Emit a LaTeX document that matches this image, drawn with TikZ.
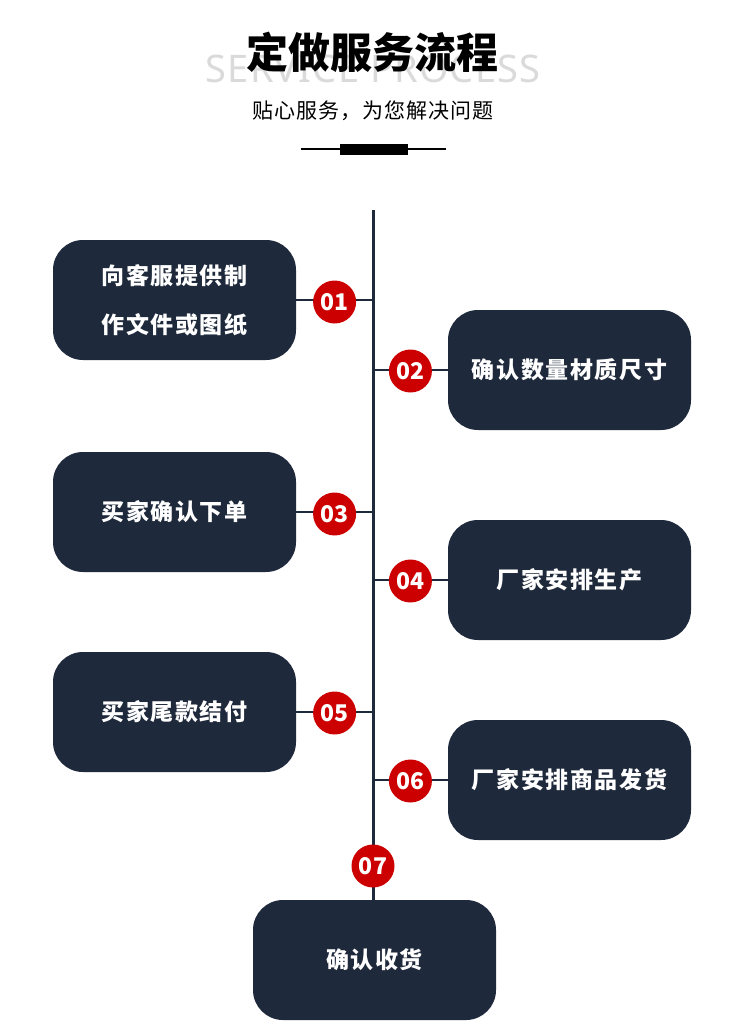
\documentclass[tikz,border=0pt]{standalone}
\usepackage{fontspec}
\setmainfont{Noto Sans CJK SC}
\newfontfamily\boxfont[LetterSpace=7]{Noto Sans CJK SC}
\newfontfamily\subfont[LetterSpace=5]{Noto Sans CJK SC}
\newfontfamily\ghostfont[LetterSpace=3]{Noto Sans}
\usetikzlibrary{positioning}
\definecolor{navy}{HTML}{1E293B}
\definecolor{deepred}{HTML}{CC0000}
\definecolor{ghost}{HTML}{DADADA}
\tikzset{
  stage/.style={
    fill=navy,
    rounded corners=30pt,
    minimum width=243pt,
    minimum height=120pt,
    align=center,
    text=white,
    font=\boxfont\bfseries\fontsize{23}{49}\selectfont
  },
  badge/.style={
    circle,
    fill=deepred,
    minimum size=43pt,
    inner sep=0pt,
    text=white,
    font=\bfseries\fontsize{23}{26}\selectfont
  },
  spine/.style={
    draw=navy,
    line width=3pt
  },
  branch/.style={
    draw=navy,
    line width=2.5pt
  }
}

\begin{document}
\begin{tikzpicture}[x=1pt,y=-1pt]
  \useasboundingbox (0,0) rectangle (750,1032);
  \fill[white] (0,0) rectangle (750,1032);

  % Heading
  \node[text=ghost, font=\ghostfont\fontsize{38}{44}\selectfont] (ghost) at (373,69) {SERVICE PROCESS};
  \node[text=black, font=\bfseries\fontsize{42}{48}\selectfont] (title) at (372,52) {定做服务流程};
  \node[text=black, font=\subfont\fontsize{21}{24}\selectfont] (subtitle) at (373,111) {贴心服务，为您解决问题};
  \draw[black, line width=2.5pt] (301,149) -- (446,149);
  \fill[black] (340,144) rectangle (408,155);

  % Steps
  \node[stage] (s1) at (174.5,300) {向客服提供制\\作文件或图纸};
  \node[stage] (s2) at (569.5,370) {确认数量材质尺寸};
  \node[stage] (s3) at (174.5,512) {买家确认下单};
  \node[stage] (s4) at (569.5,580) {厂家安排生产};
  \node[stage] (s5) at (174.5,712) {买家尾款结付};
  \node[stage] (s6) at (569.5,780) {厂家安排商品发货};
  \node[stage] (s7) at (374.5,960) {确认收货};

  % Timeline
  \coordinate (top) at (373,210);
  \draw[spine] (top) -- (top |- s7.north);
  \draw[branch] (s1.east) -- (s1.east -| top) coordinate[pos=0.5] (m1);
  \draw[branch] (s2.west) -- (s2.west -| top) coordinate[pos=0.5] (m2);
  \draw[branch] (s3.east) -- (s3.east -| top) coordinate[pos=0.5] (m3);
  \draw[branch] (s4.west) -- (s4.west -| top) coordinate[pos=0.5] (m4);
  \draw[branch] (s5.east) -- (s5.east -| top) coordinate[pos=0.5] (m5);
  \draw[branch] (s6.west) -- (s6.west -| top) coordinate[pos=0.5] (m6);

  \node[badge] (n1) at ([yshift=-2pt]m1) {01};
  \node[badge] (n2) at ([yshift=-1pt]m2) {02};
  \node[badge] (n3) at ([yshift=-2pt]m3) {03};
  \node[badge] (n4) at ([yshift=-1pt]m4) {04};
  \node[badge] (n5) at ([yshift=-1pt]m5) {05};
  \node[badge] (n6) at ([yshift=-1pt]m6) {06};
  \node[badge] (n7) at (373,866) {07};
\end{tikzpicture}
\end{document}
